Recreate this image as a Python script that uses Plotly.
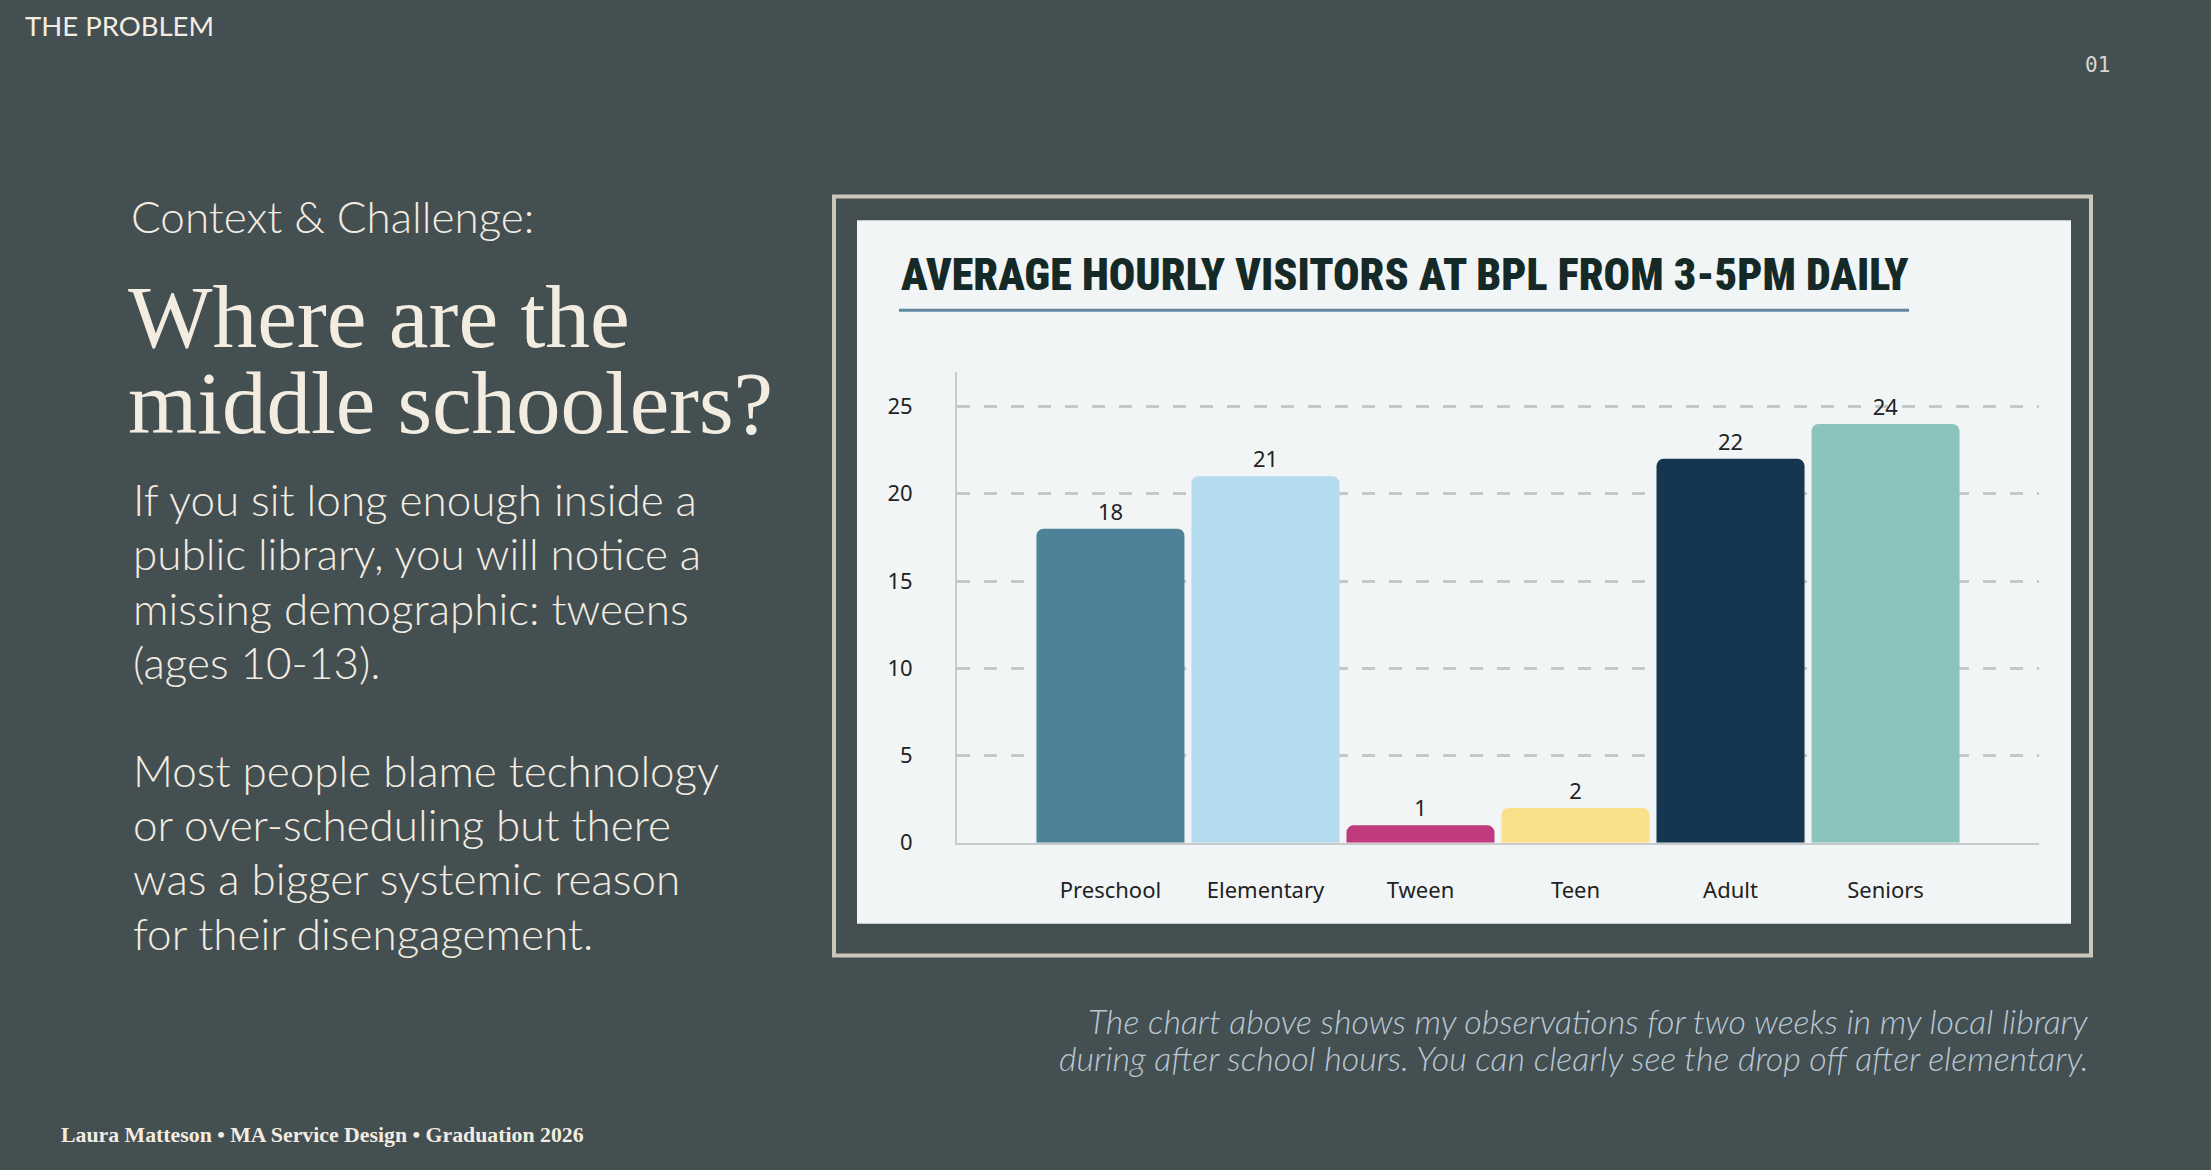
import plotly.graph_objects as go

W, H = 2211, 1170

# ---- data ----
categories = ["Preschool", "Elementary", "Tween", "Teen", "Adult", "Seniors"]
visitors = [18, 21, 1, 2, 22, 24]
bar_colors = ["#4e8299", "#b4dcee", "#bf3b7d", "#fbe08b", "#143651", "#8bc4bd"]
y_ticks = [0, 5, 10, 15, 20, 25]

chart_title = "AVERAGE HOURLY VISITORS AT BPL FROM 3-5PM DAILY"
para1 = ["If you sit long enough inside a", "public library, you will notice a",
         "missing demographic: tweens", "(ages 10-13)."]
para2 = ["Most people blame technology", "or over-scheduling but there",
         "was a bigger systemic reason", "for their disengagement."]
caption = ["The chart above shows my observations for two weeks in my local library",
           "during after school hours. You can clearly see the drop off after elementary."]
footer = "Laura Matteson \u2022 MA Service Design \u2022 Graduation 2026"

BG = "#444f52"
CREAM = "#f3ece0"
PANEL = "#f1f5f5"


def px(x):
    return x / W


def py(y):
    return 1 - y / H


fig = go.Figure()
fig.add_trace(go.Bar(
    x=categories, y=visitors,
    marker=dict(color=bar_colors, cornerradius=7, line=dict(width=0)),
    texttemplate="%{y}", textposition="outside",
    textfont=dict(family="Noto Sans", size=22, color="#222222"),
    cliponaxis=False, hoverinfo="skip",
))

ann = []


def txt(x, y, text, size, color=CREAM, family="Lato", xanchor="left",
        weight=400, style="normal", align="left"):
    ann.append(dict(x=px(x), y=py(y), xref="paper", yref="paper", text=text,
                    showarrow=False, xanchor=xanchor, yanchor="middle", align=align,
                    font=dict(family=family, size=size, color=color, weight=weight, style=style)))


txt(23, 26, "THE PROBLEM", 27.5, weight=400)
txt(2097, 66, "01", 21, color="#d6d6cf", family="DejaVu Sans Mono", xanchor="center")
txt(129, 219, "Context &amp; Challenge:", 44, weight=300)
txt(126, 320, "Where are the", 89.5, family="Liberation Serif")
txt(126, 408, "middle schoolers?", 89, family="Liberation Serif")

for i, line in enumerate(para1):
    txt(131, 505 + 55 * i, line, 44, weight=300)
for i, line in enumerate(para2):
    txt(131, 779 + 55 * i, line, 44, weight=300)

for i, line in enumerate(caption):
    txt(2091, 1033 + 37 * i, line, 34, color="#b9c8d4", xanchor="right",
        weight=300, style="italic", align="right")

txt(59, 1149, footer, 21.8, family="Liberation Serif", weight=700)

txt(899, 278, chart_title, 44, color="#152a27",
    family="Noto Sans ExtraCondensed, Noto Sans Condensed, Roboto Condensed, Roboto", weight=900)

shapes = [
    dict(type="rect", xref="paper", yref="paper", x0=px(834), x1=px(2091), y0=py(967), y1=py(199),
         line=dict(color="#cbc6b8", width=4), fillcolor=BG, layer="below"),
    dict(type="rect", xref="paper", yref="paper", x0=px(857), x1=px(2071), y0=py(935), y1=py(223),
         line=dict(width=0), fillcolor=PANEL, layer="below"),
    dict(type="line", xref="paper", yref="paper", x0=px(899), x1=px(1909), y0=py(314), y1=py(314),
         line=dict(color="#5f87a0", width=3)),
]

fig.update_layout(
    width=W, height=H, margin=dict(l=0, r=0, t=0, b=0),
    paper_bgcolor=BG, plot_bgcolor="rgba(0,0,0,0)",
    showlegend=False, bargap=0.045,
    annotations=ann, shapes=shapes,
    xaxis=dict(domain=[px(957), px(2039)], range=[-0.99, 5.99], type="category",
               showgrid=False, zeroline=False, showline=True, linecolor="#c8cacb", linewidth=2,
               ticks="", ticklabelstandoff=27, fixedrange=True,
               tickfont=dict(family="Noto Sans", size=22, color="#222222")),
    yaxis=dict(domain=[py(853), py(377)], range=[0, 26.95], tickvals=y_ticks,
               showgrid=True, gridcolor="#c6c8c8", gridwidth=3, griddash="13px,14px",
               zeroline=False, showline=True, linecolor="#c8cacb", linewidth=2,
               ticks="", ticklabelstandoff=38, fixedrange=True,
               tickfont=dict(family="Noto Sans", size=22, color="#222222")),
)

post = (
    "document.documentElement.style.margin='0';"
    "document.documentElement.style.overflow='hidden';"
    "document.body.style.margin='0';document.body.style.overflow='hidden';"
    "var gd=document.getElementsByClassName('plotly-graph-div')[0];"
    "gd.style.position='fixed';gd.style.left='0px';gd.style.top='0px';"
)
fig.write_html("out.html", config={"displayModeBar": False}, post_script=post)
